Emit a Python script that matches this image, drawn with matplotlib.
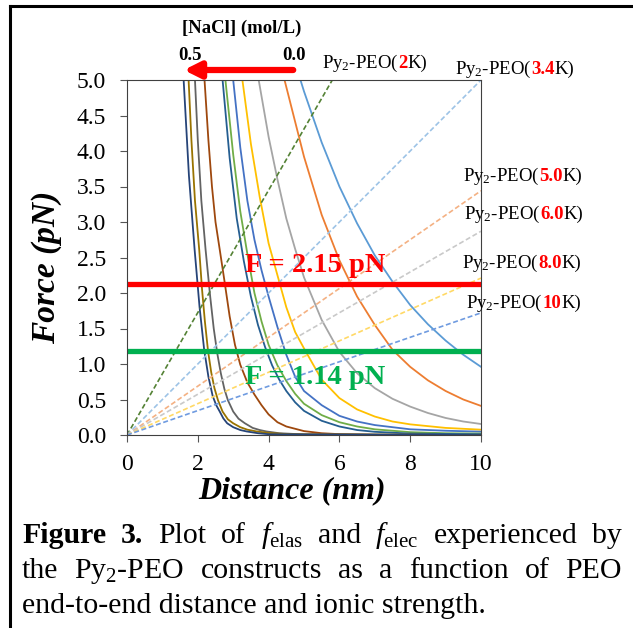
"""Force vs end-to-end distance for Py2-PEO constructs (Figure 3 redraw)."""

import matplotlib

matplotlib.use("Agg")
import matplotlib.pyplot as plt
from matplotlib.lines import Line2D

plt.rcParams["font.family"] = ["Liberation Serif", "DejaVu Serif"]
plt.rcParams["mathtext.fontset"] = "custom"
plt.rcParams["mathtext.rm"] = "Liberation Serif"
plt.rcParams["mathtext.it"] = "Liberation Serif:italic"
plt.rcParams["mathtext.bf"] = "Liberation Serif:bold"

W, H = 633, 628

# electrostatic force curves, [NaCl] 0.00 -> 0.50 mol/L
elec_colors = ["#5B9BD5", "#ED7D31", "#A5A5A5", "#FFC000", "#4472C4", "#70AD47",
               "#255E91", "#9E480E", "#636363", "#997300", "#264478"]
elec_x = [
    [4.9, 5.0, 5.5, 6.0, 6.5, 7.0, 7.5, 8.0, 8.5, 9.0, 9.5, 10],
    [4.45, 5.0, 5.5, 6.0, 6.5, 7.0, 7.5, 8.0, 8.5, 9.0, 9.5, 10],
    [3.72, 4.0, 4.25, 4.5, 4.75, 5.0, 5.5, 6.0, 6.5, 7.0, 7.5, 8.0, 8.5, 9.0, 9.5, 10],
    [3.26, 3.5, 3.75, 4.0, 4.25, 4.5, 4.75, 5.0, 5.5, 6.0, 6.5, 7.0, 7.5, 8.0, 9.0, 10],
    [3.0, 3.2, 3.4, 3.6, 3.8, 4.0, 4.25, 4.5, 4.75, 5.0, 5.5, 6.0, 6.5, 7.0, 8.0, 9.0, 10],
    [2.78, 3.0, 3.2, 3.4, 3.6, 3.8, 4.0, 4.25, 4.5, 4.75, 5.0, 5.5, 6.0, 6.5, 7.0, 8.0, 9.0, 10],
    [2.7, 2.9, 3.1, 3.3, 3.5, 3.7, 3.9, 4.1, 4.3, 4.5, 4.75, 5.0, 5.5, 6.0, 6.5, 7.0, 8.0, 10],
    [2.19, 2.3, 2.4, 2.5, 2.62, 2.75, 2.9, 3.05, 3.2, 3.4, 3.6, 3.8, 4.0, 4.25, 4.5, 5.0, 5.5,
     6.0, 7.0, 10],
    [1.92, 2.0, 2.1, 2.22, 2.35, 2.45, 2.55, 2.65, 2.75, 2.85, 3.0, 3.15, 3.33, 3.55, 3.75,
     3.94, 4.3, 5.0, 10],
    [1.74, 1.82, 1.92, 2.04, 2.12, 2.2, 2.29, 2.38, 2.47, 2.57, 2.7, 2.85, 3.0, 3.2, 3.4, 3.66,
     4.0, 4.6, 10],
    [1.6, 1.75, 1.91, 2.05, 2.18, 2.3, 2.42, 2.52, 2.62, 2.72, 2.83, 3.0, 3.2, 3.38, 3.7, 4.03,
     10],
]
elec_y = [
    [5.0, 4.84, 4.12, 3.5, 2.98, 2.53, 2.16, 1.83, 1.56, 1.33, 1.13, 0.96],
    [5.0, 3.92, 3.1, 2.46, 1.95, 1.55, 1.2, 0.96, 0.77, 0.62, 0.5, 0.41],
    [5.0, 4.2, 3.6, 3.05, 2.62, 2.22, 1.62, 1.17, 0.87, 0.66, 0.51, 0.4, 0.31, 0.24, 0.19, 0.155],
    [5.0, 4.1, 3.35, 2.7, 2.25, 1.8, 1.45, 1.22, 0.78, 0.52, 0.36, 0.26, 0.19, 0.15, 0.1, 0.075],
    [5.0, 4.05, 3.3, 2.75, 2.32, 1.95, 1.52, 1.13, 0.82, 0.62, 0.42, 0.27, 0.19, 0.14, 0.08,
     0.06, 0.047],
    [5.0, 3.95, 3.15, 2.55, 2.0, 1.6, 1.27, 0.98, 0.76, 0.58, 0.44, 0.28, 0.18, 0.12, 0.08, 0.04,
     0.025, 0.02],
    [5.0, 3.9, 3.05, 2.45, 1.95, 1.55, 1.24, 0.98, 0.78, 0.62, 0.46, 0.34, 0.2, 0.12, 0.07, 0.045,
     0.02, 0.01],
    [5.0, 4.15, 3.5, 3.0, 2.61, 2.18, 1.67, 1.27, 0.99, 0.74, 0.57, 0.42, 0.29, 0.18, 0.12, 0.055,
     0.025, 0.012, 0.003, 0.0],
    [5.0, 4.15, 3.3, 2.61, 1.95, 1.5, 1.15, 0.87, 0.65, 0.49, 0.33, 0.23, 0.165, 0.1, 0.07, 0.05,
     0.025, 0.008, 0.0],
    [5.0, 4.15, 3.3, 2.61, 2.05, 1.6, 1.18, 0.88, 0.66, 0.49, 0.33, 0.22, 0.165, 0.11, 0.075,
     0.05, 0.028, 0.01, 0.0],
    [5.0, 3.65, 2.61, 1.8, 1.2, 0.82, 0.55, 0.42, 0.33, 0.235, 0.165, 0.11, 0.07, 0.05, 0.025,
     0.01, 0.0],
]

# elastic force lines (straight from origin), one per PEO length
elas_names = ["2", "3.4", "5.0", "6.0", "8.0", "10"]
elas_colors = ["#548235", "#9DC3E6", "#F4B183", "#C9C9C9", "#FFD966", "#6F9BE0"]
elas_x_end = [5.8, 10, 10, 10, 10, 10]
elas_y_end = [5.0, 5.0, 3.44, 2.87, 2.21, 1.72]
# label anchor (left x, baseline y) in figure pixels
elas_label_pos = [(322, 68), (455, 74), (463, 181), (464, 219), (462, 268), (466, 308)]

f_red = 2.13
f_green = 1.18

fig = plt.figure(figsize=(W / 100, H / 100), dpi=100)
ax = fig.add_axes([127 / W, 1 - 435 / H, 354 / W, 355 / H])

for xs, ys, c in zip(elec_x, elec_y, elec_colors):
    ax.plot(xs, ys, color=c, lw=1.3, solid_joinstyle="round")
for xe, ye, c in zip(elas_x_end, elas_y_end, elas_colors):
    ax.plot([0, xe], [0, ye], color=c, lw=1.2, ls=(0, (3, 1.6)))

ax.axhline(f_red, color="#FF0000", lw=3.8)
ax.axhline(f_green, color="#00B050", lw=3.8)
ax.text(0.531, 0.478, "F = 2.15 pN", transform=ax.transAxes, color="#FF0000",
        fontsize=20.5, fontweight="bold", ha="center", va="center")
ax.text(0.531, 0.163, "F = 1.14 pN", transform=ax.transAxes, color="#00B050",
        fontsize=20.5, fontweight="bold", ha="center", va="center")

ax.set_xlim(0, 10)
ax.set_ylim(0, 5)
ax.set_xticks([0, 2, 4, 6, 8, 10])
ax.set_yticks([i * 0.5 for i in range(11)])
ax.set_yticklabels([f"{i * 0.5:.1f}" for i in range(11)])
ax.tick_params(direction="out", length=5, width=0.8, color="#555555",
               labelsize=17, pad=9)
ax.tick_params(axis="y", pad=10)
for sp in ax.spines.values():
    sp.set_color("#404040")
    sp.set_linewidth(0.8)

ax.text(0.466, -0.158, "Distance (nm)", transform=ax.transAxes, fontsize=23,
        fontweight="bold", fontstyle="italic", ha="center", va="center")
ax.text(-0.226, 0.473, "Force (pN)", transform=ax.transAxes, fontsize=24,
        fontweight="bold", fontstyle="italic", ha="center", va="center",
        rotation=90)

fig.canvas.draw()
renderer = fig.canvas.get_renderer()


def rich(x, y, pieces, size, va="baseline"):
    """Draw pieces (text, color, weight) one after another from x (pixels)."""
    cur = x
    for s, color, weight in pieces:
        t = fig.text(cur / W, 1 - y / H, s, color=color, fontsize=size,
                     fontweight=weight, ha="left", va=va)
        cur += t.get_window_extent(renderer).width
    return cur


def width_of(pieces, size):
    total = 0
    for s, color, weight in pieces:
        t = fig.text(0, 0, s, fontsize=size, fontweight=weight)
        total += t.get_window_extent(renderer).width
        t.remove()
    return total


for name, (lx, ly) in zip(elas_names, elas_label_pos):
    rich(lx, ly, [("Py$_2$-PEO(", "black", "normal"),
                  (name, "#FF0000", "bold"),
                  ("K)", "black", "normal")], 13.5)

# salt concentration arrow above the plot
fig.text(242 / W, 1 - 28 / H, "[NaCl] (mol/L)", fontsize=13.5, fontweight="bold",
         ha="center", va="center")
fig.text(190 / W, 1 - 55 / H, "0.5", fontsize=13.5, fontweight="bold", ha="center", va="center")
fig.text(294 / W, 1 - 55 / H, "0.0", fontsize=13.5, fontweight="bold", ha="center", va="center")
ax.annotate("", xy=(181, H - 70), xytext=(296, H - 70), xycoords="figure pixels",
            textcoords="figure pixels",
            arrowprops=dict(arrowstyle="-|>", color="#FF0000", lw=4.5, mutation_scale=24))

# caption, first two lines justified
cap_size = 21.5
cap_lines = [
    [[("Figure", "black", "bold")], [("3.", "black", "bold")], [("Plot", "black", "normal")],
     [("of", "black", "normal")], [("$f_{\\mathrm{elas}}$", "black", "normal")],
     [("and", "black", "normal")], [("$f_{\\mathrm{elec}}$", "black", "normal")],
     [("experienced", "black", "normal")], [("by", "black", "normal")]],
    [[("the", "black", "normal")], [("Py$_2$-PEO", "black", "normal")],
     [("constructs", "black", "normal")], [("as", "black", "normal")],
     [("a", "black", "normal")], [("function", "black", "normal")],
     [("of", "black", "normal")], [("PEO", "black", "normal")]],
]
cap_y = [543, 578]
for words, y in zip(cap_lines, cap_y):
    widths = [width_of(w, cap_size) for w in words]
    gap = (622 - 22 - sum(widths)) / (len(words) - 1)
    cur = 22
    for w, wd in zip(words, widths):
        rich(cur, y, w, cap_size)
        cur += wd + gap
fig.text(22 / W, 1 - 613 / H, "end-to-end distance and ionic strength.",
         fontsize=cap_size, ha="left", va="baseline")

# page frame
fig.add_artist(Line2D([10 / W, 10 / W], [0, 1 - 6 / H], color="black", lw=2.2))
fig.add_artist(Line2D([10 / W, 1], [1 - 6 / H, 1 - 6 / H], color="black", lw=2.2))

fig.savefig("out.png", dpi=100)
